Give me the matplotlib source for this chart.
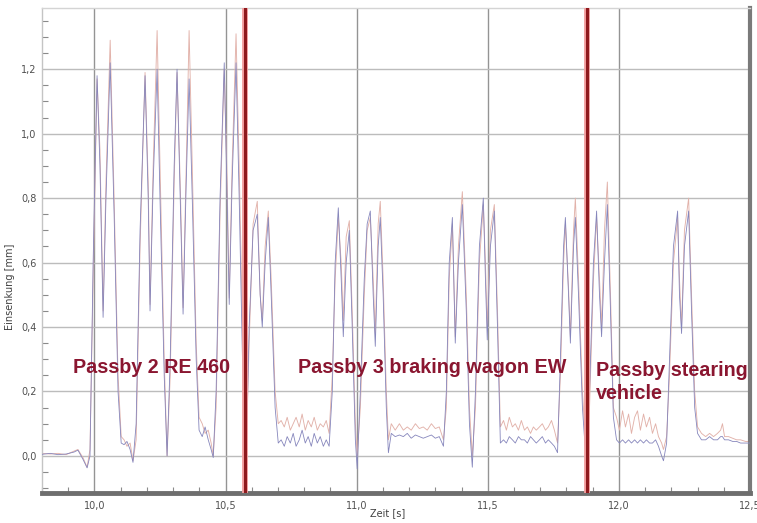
import matplotlib
matplotlib.use("Agg")
import matplotlib.pyplot as plt
from matplotlib.ticker import MultipleLocator, FuncFormatter

# ---- data ----
time_s = [
    9.800, 9.831, 9.861, 9.892, 9.922, 9.937, 9.956, 9.972, 9.983, 9.995,
    10.010, 10.021, 10.033, 10.044, 10.060, 10.075, 10.090, 10.102, 10.113, 10.124,
    10.136, 10.147, 10.159, 10.174, 10.193, 10.205, 10.212, 10.224, 10.239, 10.250,
    10.266, 10.277, 10.289, 10.304, 10.315, 10.327, 10.338, 10.350, 10.361, 10.373,
    10.388, 10.399, 10.411, 10.422, 10.434, 10.445, 10.453, 10.464, 10.479, 10.495,
    10.506, 10.514, 10.525, 10.540, 10.552, 10.567, 10.579, 10.590, 10.605, 10.621,
    10.632, 10.640, 10.651, 10.663, 10.674, 10.689, 10.701, 10.712, 10.724, 10.735,
    10.747, 10.758, 10.769, 10.781, 10.792, 10.804, 10.815, 10.827, 10.838, 10.850,
    10.861, 10.873, 10.884, 10.895, 10.907, 10.918, 10.930, 10.941, 10.949, 10.960,
    10.972, 10.983, 10.995, 11.002, 11.014, 11.029, 11.040, 11.052, 11.063, 11.071,
    11.082, 11.090, 11.101, 11.113, 11.121, 11.132, 11.147, 11.163, 11.178, 11.193,
    11.208, 11.224, 11.239, 11.254, 11.269, 11.285, 11.300, 11.315, 11.331, 11.342,
    11.353, 11.365, 11.376, 11.388, 11.403, 11.418, 11.430, 11.441, 11.453, 11.468,
    11.483, 11.491, 11.498, 11.510, 11.525, 11.537, 11.548, 11.560, 11.571, 11.582,
    11.594, 11.605, 11.617, 11.628, 11.640, 11.651, 11.663, 11.674, 11.685, 11.697,
    11.708, 11.720, 11.731, 11.743, 11.754, 11.766, 11.777, 11.789, 11.796, 11.808,
    11.815, 11.827, 11.834, 11.846, 11.861, 11.876, 11.888, 11.903, 11.915, 11.926,
    11.934, 11.945, 11.956, 11.968, 11.979, 11.991, 12.002, 12.014, 12.025, 12.037,
    12.048, 12.060, 12.071, 12.082, 12.094, 12.105, 12.117, 12.128, 12.140, 12.151,
    12.163, 12.170, 12.182, 12.193, 12.208, 12.224, 12.231, 12.239, 12.250, 12.266,
    12.277, 12.289, 12.300, 12.315, 12.331, 12.346, 12.361, 12.376, 12.388, 12.395,
    12.403, 12.418, 12.434, 12.449, 12.464, 12.483, 12.502,
]

sensor_blue = [
    0.005, 0.008, 0.004, 0.006, 0.012, 0.018, -0.010, -0.037, 0.000, 0.60,
    1.18, 0.90, 0.43, 0.80, 1.22, 0.75, 0.20, 0.04, 0.035, 0.045,
    0.02, -0.02, 0.10, 0.70, 1.18, 0.80, 0.45, 0.85, 1.20, 0.80,
    0.25, 0.00, 0.30, 0.90, 1.20, 0.80, 0.44, 0.85, 1.17, 0.80,
    0.30, 0.08, 0.06, 0.09, 0.05, 0.02, -0.005, 0.20, 0.80, 1.22,
    0.80, 0.47, 0.85, 1.22, 0.80, 0.20, 0.00, 0.40, 0.70, 0.75,
    0.50, 0.40, 0.60, 0.74, 0.50, 0.15, 0.04, 0.05, 0.03, 0.06,
    0.04, 0.07, 0.03, 0.05, 0.08, 0.04, 0.06, 0.03, 0.07, 0.04,
    0.06, 0.03, 0.05, 0.03, 0.20, 0.60, 0.77, 0.55, 0.37, 0.60,
    0.70, 0.40, 0.05, -0.04, 0.20, 0.55, 0.72, 0.76, 0.50, 0.34,
    0.65, 0.74, 0.50, 0.15, 0.01, 0.07, 0.06, 0.065, 0.06, 0.07,
    0.055, 0.065, 0.06, 0.055, 0.06, 0.065, 0.055, 0.06, 0.03, 0.20,
    0.60, 0.74, 0.35, 0.60, 0.78, 0.45, 0.10, -0.035, 0.20, 0.65,
    0.80, 0.55, 0.36, 0.65, 0.76, 0.40, 0.04, 0.05, 0.04, 0.06,
    0.05, 0.04, 0.06, 0.05, 0.05, 0.04, 0.06, 0.05, 0.04, 0.05,
    0.06, 0.04, 0.05, 0.04, 0.03, 0.01, 0.30, 0.65, 0.74, 0.50,
    0.35, 0.65, 0.74, 0.50, 0.15, -0.03, 0.20, 0.60, 0.76, 0.50,
    0.37, 0.60, 0.78, 0.45, 0.12, 0.05, 0.04, 0.05, 0.04, 0.05,
    0.04, 0.05, 0.04, 0.05, 0.04, 0.05, 0.04, 0.04, 0.05, 0.03,
    0.00, -0.015, 0.04, 0.30, 0.65, 0.76, 0.50, 0.38, 0.65, 0.76,
    0.45, 0.15, 0.07, 0.05, 0.05, 0.06, 0.05, 0.05, 0.06, 0.06,
    0.05, 0.05, 0.045, 0.045, 0.04, 0.04, 0.04,
]

sensor_pink = [
    0.008, 0.006, 0.008, 0.004, 0.015, 0.020, -0.005, -0.035, 0.020, 0.55,
    1.17, 0.95, 0.45, 0.85, 1.29, 0.80, 0.25, 0.06, 0.05, 0.03,
    0.04, -0.015, 0.05, 0.65, 1.19, 0.85, 0.47, 0.90, 1.32, 0.90,
    0.30, 0.00, 0.25, 0.85, 1.19, 0.85, 0.46, 0.90, 1.32, 0.90,
    0.35, 0.12, 0.10, 0.07, 0.08, 0.04, 0.00, 0.15, 0.75, 1.20,
    0.85, 0.49, 0.90, 1.31, 0.90, 0.30, 0.02, 0.35, 0.72, 0.79,
    0.50, 0.42, 0.65, 0.76, 0.55, 0.20, 0.10, 0.11, 0.09, 0.12,
    0.08, 0.10, 0.12, 0.09, 0.13, 0.08, 0.11, 0.09, 0.12, 0.08,
    0.10, 0.09, 0.11, 0.07, 0.25, 0.55, 0.74, 0.60, 0.42, 0.68,
    0.73, 0.45, 0.10, 0.00, 0.15, 0.50, 0.70, 0.74, 0.55, 0.38,
    0.72, 0.79, 0.55, 0.20, 0.05, 0.10, 0.08, 0.10, 0.08, 0.09,
    0.08, 0.10, 0.085, 0.09, 0.08, 0.10, 0.085, 0.09, 0.05, 0.15,
    0.55, 0.72, 0.37, 0.65, 0.82, 0.50, 0.15, 0.00, 0.15, 0.60,
    0.78, 0.60, 0.40, 0.70, 0.78, 0.45, 0.09, 0.11, 0.08, 0.12,
    0.09, 0.10, 0.08, 0.11, 0.08, 0.09, 0.07, 0.09, 0.08, 0.09,
    0.10, 0.08, 0.09, 0.11, 0.08, 0.04, 0.25, 0.60, 0.72, 0.52,
    0.37, 0.70, 0.80, 0.55, 0.20, 0.00, 0.15, 0.55, 0.74, 0.55,
    0.40, 0.70, 0.85, 0.50, 0.15, 0.12, 0.08, 0.14, 0.09, 0.13,
    0.07, 0.12, 0.14, 0.08, 0.13, 0.09, 0.12, 0.07, 0.10, 0.06,
    0.04, 0.02, 0.06, 0.25, 0.60, 0.74, 0.55, 0.40, 0.70, 0.80,
    0.50, 0.20, 0.09, 0.07, 0.06, 0.07, 0.06, 0.07, 0.08, 0.10,
    0.06, 0.06, 0.055, 0.05, 0.05, 0.045, 0.045,
]

passby_marks = [10.575, 11.880]
annotations = ["Passby 2 RE 460", "Passby 3 braking wagon EW", "Passby stearing\nvehicle"]
annot_x = [9.918, 10.777, 11.911]
annot_y = [0.273, 0.273, 0.230]

# ---- figure ----
fig = plt.figure(figsize=(7.57, 5.23), dpi=100)
ax = fig.add_axes([42 / 757, 30 / 523, 708 / 757, 485 / 523])

ax.set_xlim(9.8, 12.5)
ax.set_ylim(-0.115, 1.39)

# grid
ax.xaxis.set_major_locator(MultipleLocator(0.5))
ax.xaxis.set_minor_locator(MultipleLocator(0.1))
ax.yaxis.set_major_locator(MultipleLocator(0.2))
ax.yaxis.set_minor_locator(MultipleLocator(0.05))
ax.grid(True, axis="x", which="major", color="#949494", lw=1.0, zorder=0)
ax.grid(True, axis="y", which="major", color="#bcbcbc", lw=1.0, zorder=0)
ax.set_axisbelow(True)

ax.plot(time_s, sensor_pink, color="#e2b2aa", lw=0.65, zorder=2)
ax.plot(time_s, sensor_blue, color="#8686bc", lw=0.6, zorder=3)

for xm in passby_marks:
    ax.axvline(xm, color="#f2a0a0", lw=4.2, zorder=4)
    ax.axvline(xm, color="#8e1a1e", lw=2.2, zorder=5)

for txt, tx, ty in zip(annotations, annot_x, annot_y):
    ax.text(tx, ty, txt, color="#8a1630", fontsize=14.2, fontweight="bold",
            family="Liberation Sans", ha="left", va="center", linespacing=1.25,
            zorder=6)

fmt = FuncFormatter(lambda v, p: f"{v:.1f}".replace(".", ","))
ax.xaxis.set_major_formatter(fmt)
ax.yaxis.set_major_formatter(fmt)

ax.tick_params(axis="both", which="both", direction="in", colors="#8a8a8a",
               labelcolor="#505050", labelsize=7)
ax.tick_params(axis="x", which="major", length=0, pad=6)
ax.tick_params(axis="y", which="major", length=0, pad=4)
ax.tick_params(axis="both", which="minor", length=4, width=0.8)
ax.tick_params(top=False, right=False)

for lbl in ax.get_xticklabels() + ax.get_yticklabels():
    lbl.set_family("DejaVu Sans")

ax.spines["left"].set_color("#c4c4c4")
ax.spines["left"].set_linewidth(1.0)
ax.spines["top"].set_color("#d4d4d4")
ax.spines["top"].set_linewidth(1.0)
ax.spines["bottom"].set_color("#6e6e6e")
ax.spines["bottom"].set_linewidth(3.5)
ax.spines["right"].set_color("#7a7a7a")
ax.spines["right"].set_linewidth(3.0)

fig.text(388 / 757, 1 - 513 / 523, "Zeit [s]", fontsize=7, color="#404040",
         ha="center", va="center")
ax.set_ylabel("Einsenkung [mm]", fontsize=7, color="#404040")
ax.yaxis.set_label_coords(-0.038, 0.425)

fig.savefig("out.png", dpi=100, facecolor="white")
